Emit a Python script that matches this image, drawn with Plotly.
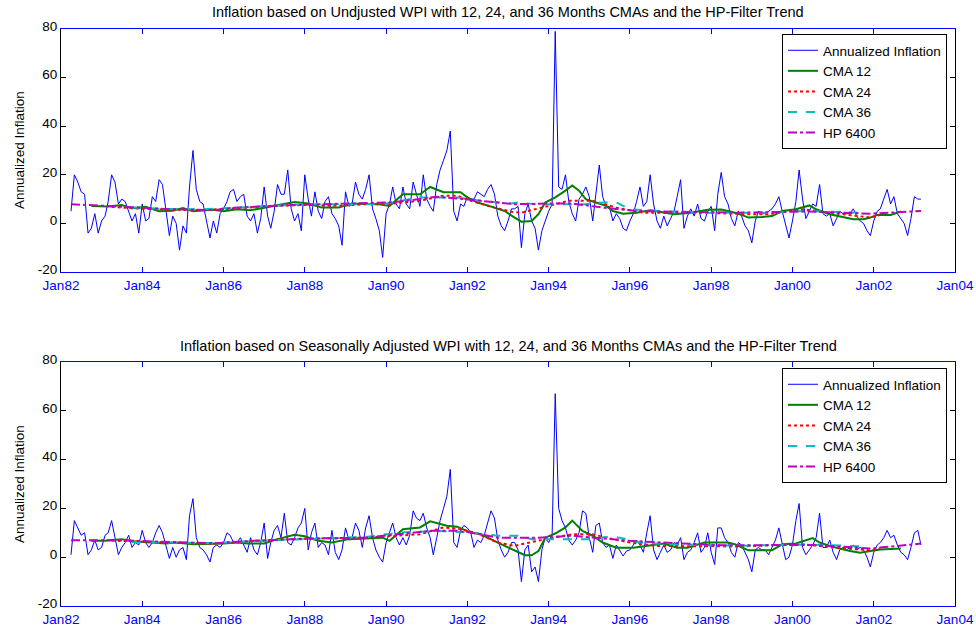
import plotly.graph_objects as go
import pandas as pd

# ---------------- data ----------------
infl_start = "1982-04-01"

top_inflation = [
    5, 20, 17, 13, 12, -4, -2, 4, -4,
    1, 3, 9, 20, 17, 8, 10, 9, 5, 1, 4, -4,
    8, 1, 2, 11, 9, 18, 16, 6, -5, 3, 0, -11,
    -1, -4, 15, 30, 14, 9, 8, 1, -6, 1, -4, 4,
    6, 9, 13, 14, 9, 11, 12, 3, 1, 4, -4, 2,
    15, 3, -2, 5, 16, 12, 12, 22, 6, 1, 4, -3,
    20, 10, 3, 13, 5, 2, 9, 11, 4, 2, -1, -9,
    13, 7, 8, 17, 12, 10, 14, 20, 6, 2, -3, -14,
    4, 8, 15, 8, 6, 15, 8, 6, 17, 12, 7, 20,
    10, 7, 5, 16, 22, 26, 30, 38, 5, 1, 8, 7,
    11, 10, 10, 13, 12, 11, 14, 16, 12, 3, -1, -3,
    1, 6, 6, 7, -10, 4, 8, 1, -2, -11, -3, 1,
    5, 8, 79, 15, 14, 20, 9, 4, 1, 10, 12, 15,
    11, 1, 12, 24, 11, 7, 7, 1, 4, 2, -2, -3,
    1, 4, 9, 15, 7, 9, 20, 8, 1, -2, 3, -1,
    2, 5, 11, 18, -2, 3, 6, 3, 8, 2, 1, 5,
    7, -3, 12, 21, 11, 8, 2, -1, 5, 3, -1, -3,
    -8, 1, 5, 4, 4, 5, 6, 8, 11, 5, -1, -6,
    1, 9, 22, 10, 2, 5, 8, 7, 16, 4, 3, 4,
    -1, 2, 5, 4, 4, 4, 6, 3, 1, 0, -3, -5,
    1, 5, 6, 10, 14, 8, 11, 4, 2, 0, -5, 2,
    11, 10, 10,
]

bottom_inflation = [
    1, 15, 12, 9, 10, 1, 3, 7, 3,
    4, 9, 10, 15, 8, 1, 4, 6, 9, 4, 6, 5,
    11, 6, 4, 6, 10, 13, 10, 5, -0.5, 4, 0, 3,
    4, -1, 17, 24, 8, 4, 3, 1, -2, 4, 5, 4,
    6, 10, 9, 6, 6, 8, 5, 2, 8, 3, 1, 6,
    14, -0.5, 6, 11, 13, 8, 18, 6, 5, 8, 12, 14,
    20, 3, 10, 14, 4, 6, 5, 1, 11, 2, -1, 3,
    12, 7, 8, 14, 11, 4, 12, 17, 8, 3, 0, -2,
    6, 10, 14, 8, 5, 8, 5, 9, 19, 16, 15, 18,
    12, 8, 1, 8, 15, 20, 25, 36, 6, 4, 11, 13,
    12, 10, 4, 7, 6, 9, 14, 19, 16, 7, 3, 0,
    2, 6, 6, 3, -10, 3, 5, -6, -4, -10, 3, 8,
    6, 9, 67, 20, 15, 12, 7, 5, 7, 10, 19, 18,
    8, 2, 13, 14, 6, 4, 5, -0.5, 5, 2.5, 0.5, 2.5,
    3, 5, 7, 5, 2, 10, 17, 3, -1, 2, 5, 2,
    3, 6, 5, 8, -1, 2, 3, 6, 10, 2, 4, 10,
    2, -3, 12, 12, 8, 6, 2, 0, 6, 5, 2, -1,
    -6, 3, 4, 3, 3, 1, 4, 7, 12, 5, -1, 0,
    5, 15, 22, 4, 1, 3, 5, 8, 18, 4, 4, 7,
    2, -1, 3, 4, 3, 4, 5, 3, 4, 3, 0, -4,
    2, 5, 6, 8, 11, 8, 9, 5, 2, 1, -1, 4,
    10, 11, 5,
]

top_cma12_dates = ["1982-10", "1983-03", "1983-07", "1983-10", "1984-02", "1984-06", "1984-10",
                   "1985-01", "1985-04", "1985-07", "1985-10", "1986-01", "1986-05", "1986-09",
                   "1987-01", "1987-05", "1987-10", "1988-02", "1988-06", "1988-11", "1989-03",
                   "1989-07", "1989-11", "1990-02", "1990-06", "1990-11", "1991-02", "1991-06",
                   "1991-11", "1992-01", "1992-04", "1992-09", "1992-12", "1993-03", "1993-05",
                   "1993-08", "1993-10", "1993-12", "1994-03", "1994-06", "1994-08", "1994-10",
                   "1994-12", "1995-03", "1995-06", "1995-08", "1995-11", "1996-03", "1996-07",
                   "1996-11", "1997-02", "1997-07", "1997-12", "1998-04", "1998-07", "1998-10",
                   "1998-12", "1999-04", "1999-07", "1999-10", "2000-02", "2000-06", "2000-08",
                   "2000-12", "2001-04", "2001-07", "2001-10", "2001-12", "2002-02", "2002-06",
                   "2002-09"]
top_cma12 = [7.2, 7.0, 7.6, 6.2, 6.8, 5.0, 5.2,
             6.3, 5.0, 5.2, 5.6, 5.0, 5.8, 5.4,
             6.5, 7.5, 8.8, 8.2, 6.5, 6.5, 8.2,
             8.0, 7.9, 7.2, 12.0, 12.0, 15.0, 12.8,
             12.8, 10.7, 8.6, 6.5, 5.1, 2.4, 0.7,
             1.0, 3.8, 8.6, 10.7, 13.5, 15.6, 13.5,
             10.0, 8.6, 7.2, 5.1, 4.0, 4.4, 5.4,
             4.5, 3.8, 4.4, 5.6, 5.7, 4.8, 3.5,
             2.4, 2.6, 3.0, 5.1, 5.8, 7.4, 5.8,
             3.8, 2.6, 1.7, 1.7, 2.4, 3.5, 3.5,
             4.9]

top_cma24_dates = ["1983-04", "1984-01", "1984-10", "1985-07", "1986-05", "1987-03", "1988-01",
                   "1988-11", "1989-07", "1990-01", "1990-11", "1991-06", "1991-10", "1992-02",
                   "1992-09", "1993-02", "1993-05", "1993-12", "1994-07", "1995-02", "1995-09",
                   "1996-05", "1996-11", "1997-11", "1998-12", "1999-06", "2000-04", "2001-02",
                   "2001-12", "2002-03"]
top_cma24 = [6.8, 6.0, 5.6, 5.5, 6.2, 7.2, 7.6,
             7.2, 7.9, 7.9, 9.3, 11.4, 11.4, 9.3,
             6.5, 4.8, 4.4, 7.0, 9.3, 9.3, 6.5,
             4.4, 4.4, 4.4, 3.8, 3.8, 5.8, 4.0,
             2.4, 3.5]

top_cma36_dates = ["1983-10", "1984-07", "1985-07", "1987-03", "1988-01", "1989-07", "1990-01",
                   "1990-11", "1991-10", "1992-05", "1993-02", "1993-04", "1993-09", "1994-12",
                   "1995-05", "1995-09", "1996-01", "1996-11", "1997-11", "1999-07", "2000-05",
                   "2001-09"]
top_cma36 = [6.5, 6.0, 5.8, 7.2, 7.9, 7.9, 8.2,
             10.7, 10.7, 9.3, 8.2, 8.6, 7.9, 7.9,
             8.6, 8.6, 5.8, 5.0, 4.4, 4.4, 5.1,
             4.4]

top_hp_dates = ["1982-04", "1983-02", "1983-12", "1984-10", "1985-10", "1986-05", "1987-08",
                "1988-11", "1989-07", "1990-02", "1990-11", "1991-04", "1991-12", "1992-09",
                "1993-03", "1994-03", "1994-08", "1995-05", "1996-03", "1996-11", "1998-09",
                "2000-05", "2001-12", "2003-03"]
top_hp = [7.9, 7.2, 6.5, 5.8, 5.5, 6.5, 7.5,
          7.9, 8.2, 8.6, 10.0, 11.0, 10.0, 8.6,
          7.9, 8.2, 8.2, 6.5, 5.1, 4.9, 4.4,
          4.9, 4.0, 5.1]

bot_cma12_dates = ["1982-10", "1983-02", "1983-07", "1983-11", "1984-08", "1984-11", "1985-04",
                   "1985-10", "1986-01", "1986-05", "1986-08", "1987-01", "1987-05", "1987-10",
                   "1988-01", "1988-05", "1988-09", "1989-02", "1989-07", "1989-12", "1990-02",
                   "1990-06", "1990-11", "1991-02", "1991-07", "1991-10", "1992-02", "1992-05",
                   "1992-10", "1993-03", "1993-06", "1993-08", "1993-10", "1993-12", "1994-03",
                   "1994-06", "1994-08", "1994-11", "1995-02", "1995-05", "1995-09", "1996-02",
                   "1996-06", "1996-11", "1997-03", "1997-06", "1997-11", "1998-06", "1998-08",
                   "1998-12", "1999-07", "1999-10", "2000-02", "2000-05", "2000-07", "2000-09",
                   "2000-12", "2001-06", "2001-09", "2001-12", "2002-03", "2002-09"]
bot_cma12 = [6.7, 6.7, 7.4, 6.4, 5.6, 6.0, 5.3,
             5.3, 5.6, 6.0, 5.6, 5.6, 7.4, 9.2,
             8.6, 6.7, 6.0, 7.4, 7.8, 8.0, 6.7,
             11.5, 12.2, 14.7, 12.9, 12.5, 10.1, 9.4,
             6.0, 2.8, 0.8, 0.8, 2.5, 8.0, 9.7,
             12.2, 15.0, 10.8, 8.8, 6.0, 3.9, 3.9,
             4.6, 5.6, 3.9, 3.9, 6.0, 6.0, 5.3,
             2.8, 2.8, 5.3, 5.6, 7.0, 7.8, 6.0,
             4.6, 2.5, 1.8, 2.5, 3.2, 3.6]

bot_cma24_dates = ["1983-04", "1984-01", "1985-10", "1986-10", "1988-01", "1989-07", "1990-11",
                   "1991-06", "1991-11", "1992-04", "1992-10", "1993-03", "1993-05", "1993-12",
                   "1994-08", "1995-02", "1995-06", "1996-01", "1996-09", "1998-09", "2000-04",
                   "2001-02", "2001-12", "2002-03"]
bot_cma24 = [6.8, 6.4, 5.5, 6.7, 7.6, 8.0, 9.4,
             12.2, 11.5, 9.7, 6.0, 4.6, 5.3, 7.4,
             9.4, 9.4, 8.0, 6.0, 4.6, 4.4, 5.3,
             3.9, 2.8, 3.6]

bot_cma36_dates = ["1983-10", "1985-10", "1987-03", "1988-06", "1989-07", "1990-05", "1991-04",
                   "1992-02", "1992-10", "1993-04", "1993-08", "1995-01", "1995-06", "1995-10",
                   "1996-04", "1997-01", "1998-09", "2000-05", "2001-09"]
bot_cma36 = [6.2, 5.8, 6.9, 7.8, 8.3, 10.1, 10.8,
             10.1, 8.8, 8.8, 7.4, 7.4, 8.3, 8.0,
             6.0, 5.3, 4.7, 5.2, 4.5]

bot_hp_dates = ["1982-04", "1983-07", "1984-05", "1985-10", "1986-10", "1988-01", "1989-07",
                "1990-06", "1991-02", "1991-10", "1992-02", "1992-10", "1993-10", "1994-08",
                "1995-03", "1996-01", "1996-11", "1998-04", "2000-07", "2001-07", "2001-12",
                "2002-08", "2003-03"]
bot_hp = [6.9, 6.9, 6.4, 5.7, 6.7, 7.6, 8.0,
          9.7, 10.8, 10.8, 10.1, 8.0, 8.0, 8.8,
          8.0, 6.7, 6.0, 4.9, 5.0, 3.9, 3.6,
          4.6, 5.6]

series_names = ["Annualized Inflation", "CMA 12", "CMA 24", "CMA 36", "HP 6400"]
titles = ["Inflation based on Undjusted WPI with 12, 24, and 36 Months CMAs and the HP-Filter Trend",
          "Inflation based on Seasonally Adjusted WPI with 12, 24, and 36 Months CMAs and the HP-Filter Trend"]
y_label = "Annualized Inflation"
x_tick_dates = ["1982-01-01", "1984-01-01", "1986-01-01", "1988-01-01", "1990-01-01", "1992-01-01",
                "1994-01-01", "1996-01-01", "1998-01-01", "2000-01-01", "2002-01-01", "2004-01-01"]
x_tick_text = ["Jan82", "Jan84", "Jan86", "Jan88", "Jan90", "Jan92",
               "Jan94", "Jan96", "Jan98", "Jan00", "Jan02", "Jan04"]
y_tick_vals = [-20, 0, 20, 40, 60, 80]
y_tick_text = ["-20", "0", "20", "40", "60", "80"]

# ---------------- figure ----------------
FONT = "Liberation Sans, Arial, sans-serif"
BLUE = "#0000ff"
styles = [
    dict(color=BLUE, width=1),
    dict(color="#008000", width=2),
    dict(color="#ff0000", width=2, dash="dot"),
    dict(color="#00bfbf", width=2, dash="dash"),
    dict(color="#bf00bf", width=2, dash="dashdot"),
]

def months(lst):
    return pd.to_datetime([d + "-01" for d in lst])

panels = [
    dict(infl=top_inflation, c12=(top_cma12_dates, top_cma12), c24=(top_cma24_dates, top_cma24),
         c36=(top_cma36_dates, top_cma36), hp=(top_hp_dates, top_hp), xa="x", ya="y", lg="legend"),
    dict(infl=bottom_inflation, c12=(bot_cma12_dates, bot_cma12), c24=(bot_cma24_dates, bot_cma24),
         c36=(bot_cma36_dates, bot_cma36), hp=(bot_hp_dates, bot_hp), xa="x2", ya="y2", lg="legend2"),
]

fig = go.Figure()
for p in panels:
    xs = pd.date_range(infl_start, periods=len(p["infl"]), freq="MS")
    fig.add_trace(go.Scatter(x=xs, y=p["infl"], mode="lines", name=series_names[0],
                             line=styles[0], xaxis=p["xa"], yaxis=p["ya"], legend=p["lg"]))
    for i, key in enumerate(["c12", "c24", "c36", "hp"], start=1):
        d, v = p[key]
        fig.add_trace(go.Scatter(x=months(d), y=v, mode="lines", name=series_names[i],
                                 line=styles[i], xaxis=p["xa"], yaxis=p["ya"], legend=p["lg"]))

L, R, T, B = 61, 21, 29, 21
W, H = 976, 627
ph = H - T - B
pw = W - L - R

def fy(pix):
    return (H - B - pix) / ph

def fx(pix):
    return (pix - L) / pw

top_dom = [fy(272), 1.0]
bot_dom = [0.0, fy(362)]

TICK_SIZE = 13.5
xcommon = dict(type="date", range=["1982-01-01", "2004-01-01"], tickvals=x_tick_dates, ticktext=x_tick_text,
               tickfont=dict(color=BLUE, size=TICK_SIZE, family=FONT), showline=True, linecolor=BLUE, linewidth=1,
               mirror="ticks", ticks="inside", tickcolor=BLUE, ticklen=5, showgrid=False, zeroline=False,
               automargin=False, fixedrange=True, ticklabelstandoff=1)
ycommon = dict(range=[-20, 80], tickvals=y_tick_vals, ticktext=y_tick_text,
               tickfont=dict(color="black", size=TICK_SIZE, family=FONT), showline=True, linecolor="black",
               linewidth=1, mirror="ticks", ticks="inside", tickcolor="black", ticklen=5, showgrid=False,
               zeroline=False, automargin=False, fixedrange=True, ticklabelshift=-3)

legcommon = dict(bgcolor="white", bordercolor="black", borderwidth=1, xanchor="right", yanchor="top",
                 font=dict(size=13.5, family=FONT, color="black"), tracegroupgap=0, itemwidth=30)

fig.update_layout(
    width=W, height=H,
    margin=dict(l=L, r=R, t=T, b=B, autoexpand=False),
    paper_bgcolor="white", plot_bgcolor="white",
    font=dict(family=FONT, size=13, color="black"),
    xaxis=dict(domain=[0, 1], anchor="y", **xcommon),
    yaxis=dict(domain=top_dom, anchor="x", **ycommon),
    xaxis2=dict(domain=[0, 1], anchor="y2", **xcommon),
    yaxis2=dict(domain=bot_dom, anchor="x2", **ycommon),
    legend=dict(x=fx(947), y=fy(34), **legcommon),
    legend2=dict(x=fx(947), y=fy(368), **legcommon),
    showlegend=True,
)

TITLE_SIZE = 14.5
ann = [
    dict(text=titles[0], xref="paper", yref="paper", x=0.5, y=fy(12), xanchor="center",
         yanchor="middle", showarrow=False, font=dict(size=TITLE_SIZE, family=FONT, color="black")),
    dict(text=titles[1], xref="paper", yref="paper", x=0.5, y=fy(346), xanchor="center",
         yanchor="middle", showarrow=False, font=dict(size=TITLE_SIZE, family=FONT, color="black")),
    dict(text=y_label, xref="paper", yref="paper", x=fx(19), y=fy(150),
         xanchor="center", yanchor="middle", textangle=-90, showarrow=False,
         font=dict(size=13.5, family=FONT, color="black")),
    dict(text=y_label, xref="paper", yref="paper", x=fx(19), y=fy(484),
         xanchor="center", yanchor="middle", textangle=-90, showarrow=False,
         font=dict(size=13.5, family=FONT, color="black")),
]
fig.update_layout(annotations=ann)

fig.write_html("out.html",
               config={"displayModeBar": False},
               post_script="document.body.style.margin='0px';document.body.style.padding='0px';")
